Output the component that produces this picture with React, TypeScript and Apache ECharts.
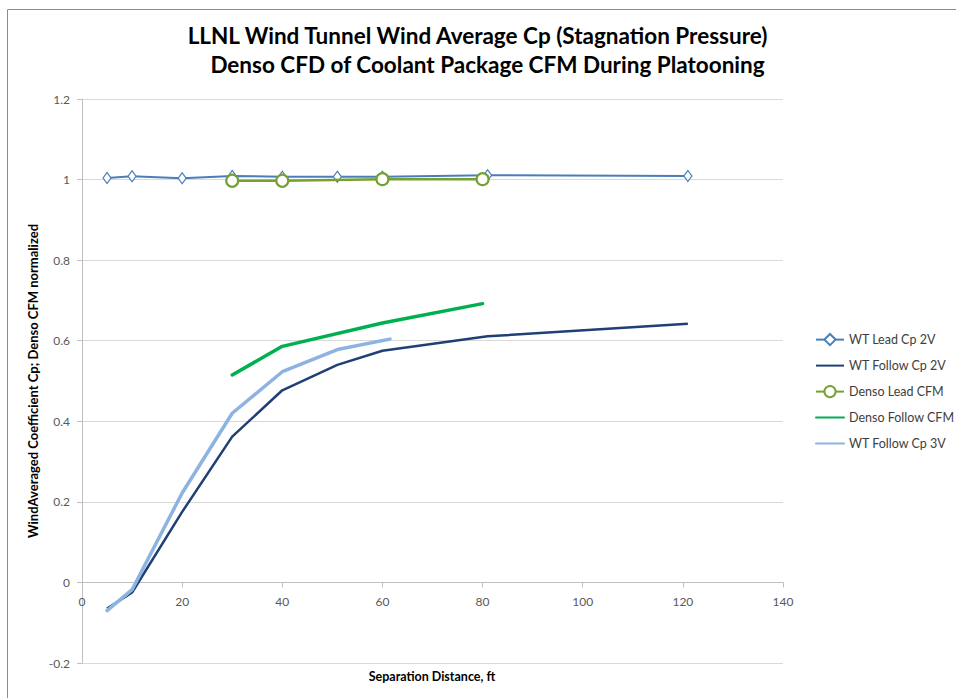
import React, { useEffect, useRef } from "react";
import * as echarts from "echarts";

const titleLines = [
  "LLNL Wind Tunnel Wind Average Cp (Stagnation Pressure)",
  "Denso CFD of Coolant Package CFM During Platooning",
];
const xAxisTitle = "Separation Distance, ft";
const yAxisTitle = "WindAveraged Coefficient Cp; Denso CFM normalized";

const seriesNames = [
  "WT Lead Cp 2V",
  "WT Follow Cp 2V",
  "Denso Lead CFM",
  "Denso Follow CFM",
  "WT Follow Cp 3V",
];

const wtDistance = [5, 10, 20, 30, 40, 51, 60, 81, 121];
const wtLeadCp2V = [1.004, 1.008, 1.003, 1.009, 1.007, 1.007, 1.007, 1.011, 1.009];
const wtFollowCp2V = [-0.065, -0.025, 0.175, 0.362, 0.477, 0.54, 0.575, 0.611, 0.642];

const densoDistance = [30, 40, 60, 80];
const densoLeadCFM = [0.997, 0.997, 1.001, 1.001];
const densoFollowCFM = [0.515, 0.586, 0.644, 0.692];

const wt3VDistance = [5, 10, 20, 30, 40, 51, 61.5];
const wtFollowCp3V = [-0.07, -0.018, 0.222, 0.42, 0.523, 0.578, 0.604];

const xMin = 0;
const xMax = 140;
const xStep = 20;
const yMin = -0.2;
const yMax = 1.2;
const yStep = 0.2;

const zip = (xs: number[], ys: number[]) => xs.map((x, i) => [x, ys[i]]);

const FONT = "Lato, 'Open Sans', sans-serif";

export default function App() {
  const ref = useRef<HTMLDivElement>(null);
  useEffect(() => {
    if (!ref.current) return;
    const chart = echarts.init(ref.current, undefined, { renderer: "svg" });
    const axisGray = "#bfbfbf";
    const gridTop = 99;
    const gridBottom = 35;
    const plotHeight = 698 - gridTop - gridBottom;
    const zeroOffset = -(plotHeight * (0 - yMin)) / (yMax - yMin);
    const noSymbol = { color: "transparent", borderColor: "transparent", borderWidth: 0 };
    const titleStyle = {
      fontFamily: FONT,
      fontSize: 22.5,
      fontWeight: "bold",
      color: "#000000",
    };
    chart.setOption({
      animation: false,
      backgroundColor: "#ffffff",
      textStyle: { fontFamily: FONT },
      title: [
        { text: titleLines[0], left: 477.5, textAlign: "center", top: 24, padding: 0, textStyle: titleStyle },
        { text: titleLines[1], left: 487.5, textAlign: "center", top: 53, padding: 0, textStyle: titleStyle },
      ],
      grid: { left: 82, right: 173, top: gridTop, bottom: gridBottom, containLabel: false },
      xAxis: {
        type: "value",
        min: xMin,
        max: xMax,
        interval: xStep,
        offset: zeroOffset,
        axisLine: { show: true, onZero: false, lineStyle: { color: axisGray, width: 1 } },
        axisTick: { show: true, length: 5, lineStyle: { color: axisGray } },
        axisLabel: { color: "#595959", fontSize: 12, margin: 13, fontFamily: FONT },
        splitLine: { show: false },
      },
      yAxis: {
        type: "value",
        min: yMin,
        max: yMax,
        interval: yStep,
        axisLine: { show: true, onZero: false, lineStyle: { color: axisGray, width: 1 } },
        axisTick: { show: true, length: 5, lineStyle: { color: axisGray } },
        axisLabel: {
          color: "#595959",
          fontSize: 12,
          margin: 12,
          fontFamily: FONT,
          formatter: (v: number) => String(Number(v.toFixed(1))),
        },
        splitLine: { show: true, lineStyle: { color: "#d9d9d9", width: 1 } },
      },
      legend: {
        orient: "vertical",
        left: 815,
        top: 333,
        padding: 0,
        itemWidth: 28,
        itemHeight: 14,
        itemGap: 12.9,
        textStyle: { color: "#404040", fontSize: 12.5, fontFamily: FONT },
        data: [
          { name: seriesNames[0] },
          { name: seriesNames[1], itemStyle: noSymbol },
          { name: seriesNames[2] },
          { name: seriesNames[3], itemStyle: noSymbol },
          { name: seriesNames[4], itemStyle: noSymbol },
        ],
      },
      graphic: [
        {
          type: "rect",
          shape: { x: 7.5, y: 9.5, width: 1000, height: 1000 },
          style: { fill: "none", stroke: "#8c8c8c", lineWidth: 1 },
          silent: true,
        },
        {
          type: "text",
          x: 33,
          y: 381,
          rotation: Math.PI / 2,
          style: {
            text: yAxisTitle,
            fontFamily: FONT,
            fontSize: 13,
            fontWeight: "bold",
            fill: "#000000",
            textAlign: "center",
            textVerticalAlign: "middle",
          },
        },
        {
          type: "text",
          x: 432,
          y: 676,
          style: {
            text: xAxisTitle,
            fontFamily: FONT,
            fontSize: 12.5,
            fontWeight: "bold",
            fill: "#000000",
            textAlign: "center",
            textVerticalAlign: "middle",
          },
        },
      ],
      series: [
        {
          name: seriesNames[0],
          type: "line",
          data: zip(wtDistance, wtLeadCp2V),
          symbol: "diamond",
          symbolSize: [8, 11],
          showAllSymbol: true,
          lineStyle: { color: "#4a7ebb", width: 2 },
          itemStyle: { color: "#ffffff", borderColor: "#4a7ebb", borderWidth: 1.2 },
          z: 2,
        },
        {
          name: seriesNames[1],
          type: "line",
          data: zip(wtDistance, wtFollowCp2V),
          symbol: "none",
          lineStyle: { color: "#1f3f75", width: 2.5 },
          itemStyle: { color: "#1f3f75" },
          z: 3,
        },
        {
          name: seriesNames[2],
          type: "line",
          data: zip(densoDistance, densoLeadCFM),
          symbol: "circle",
          symbolSize: 12,
          showAllSymbol: true,
          lineStyle: { color: "#77a033", width: 2.5 },
          itemStyle: { color: "#ffffff", borderColor: "#77a033", borderWidth: 2.2 },
          z: 4,
        },
        {
          name: seriesNames[3],
          type: "line",
          data: zip(densoDistance, densoFollowCFM),
          symbol: "none",
          lineStyle: { color: "#00b050", width: 3.5, cap: "round" },
          itemStyle: { color: "#00b050" },
          z: 5,
        },
        {
          name: seriesNames[4],
          type: "line",
          data: zip(wt3VDistance, wtFollowCp3V),
          symbol: "none",
          lineStyle: { color: "#8db3e2", width: 3.5, cap: "round" },
          itemStyle: { color: "#8db3e2" },
          z: 6,
        },
      ],
    });
    return () => chart.dispose();
  }, []);
  return (
    <div
      ref={ref}
      style={{ position: "fixed", left: 0, top: 0, width: 956, height: 698, background: "#fff" }}
    />
  );
}
